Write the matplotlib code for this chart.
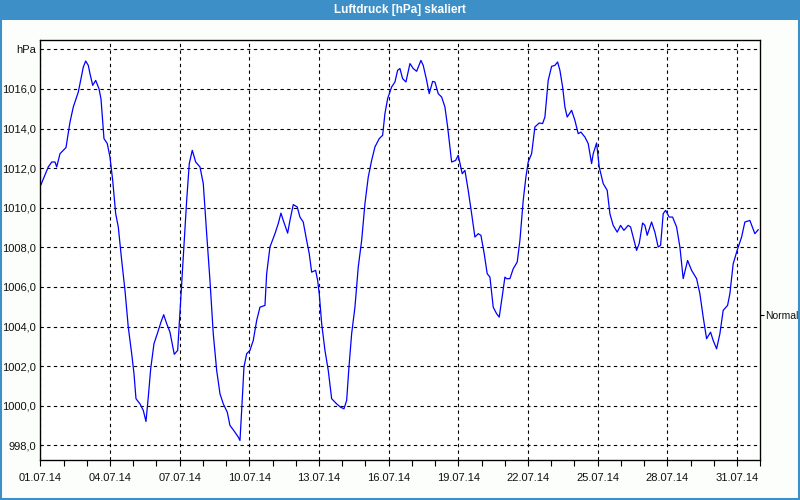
import numpy as np
import matplotlib.pyplot as plt
from matplotlib.patches import Rectangle

plt.rcParams['font.family'] = ['Liberation Sans', 'DejaVu Sans']

# days since 01.07.14 00:00 and pressure in hPa
days = [0.03, 0.344, 0.491, 0.633, 0.706, 0.848, 1.106, 1.279, 1.421, 1.636,
        1.851, 1.954, 2.066, 2.139, 2.256, 2.385, 2.527, 2.613, 2.742, 2.884,
        3.0, 3.117, 3.246, 3.358, 3.504, 3.646, 3.788, 3.935, 4.034, 4.12,
        4.292, 4.434, 4.55, 4.649, 4.753, 4.895, 5.037, 5.196, 5.312, 5.441,
        5.583, 5.768, 5.915, 5.984, 6.156, 6.302, 6.414, 6.543, 6.69, 6.875,
        7.017, 7.163, 7.305, 7.447, 7.594, 7.736, 7.878, 8.05, 8.166, 8.381,
        8.524, 8.597, 8.67, 8.769, 8.885, 9.027,
        9.169, 9.316, 9.458, 9.673, 9.746, 9.888, 10.103, 10.245, 10.362, 10.461,
        10.65, 10.749, 10.891, 11.063, 11.179, 11.321, 11.468, 11.58, 11.683, 11.855,
        11.941, 12.01, 12.114, 12.256, 12.398, 12.544, 12.759, 12.931, 13.074, 13.19,
        13.289, 13.405, 13.547, 13.689, 13.836, 13.978, 14.12, 14.266, 14.408, 14.593,
        14.739, 14.838, 14.955, 15.127, 15.269, 15.385, 15.484, 15.6, 15.743, 15.915,
        16.057, 16.203, 16.388, 16.487, 16.634, 16.745, 16.892, 16.991, 17.133, 17.279,
        17.421, 17.538, 17.71, 17.882, 17.994, 18.166, 18.282, 18.424, 18.571, 18.713,
        18.855, 18.971, 19.113, 19.242, 19.359, 19.501, 19.647, 19.759,
        19.905, 20.004, 20.077, 20.219, 20.362, 20.534, 20.65, 20.792, 20.908, 21.007,
        21.154, 21.296, 21.481, 21.627, 21.726, 21.868, 22.015, 22.157, 22.273, 22.372,
        22.488, 22.587, 22.686, 22.876, 23.018, 23.16, 23.276, 23.448, 23.59, 23.737,
        23.806, 23.952, 24.064, 24.236, 24.408, 24.524, 24.666, 24.839, 24.985, 25.127,
        25.312, 25.415, 25.527, 25.673, 25.785, 25.932, 26.031, 26.13, 26.319, 26.461,
        26.603, 26.707, 26.819, 26.922, 27.077, 27.223, 27.396, 27.538, 27.68, 27.869,
        28.042, 28.257, 28.399, 28.541, 28.687, 28.859, 28.971, 29.118, 29.26, 29.402,
        29.591, 29.69, 29.832, 30.004, 30.194, 30.336, 30.551, 30.766, 30.908]
pressure = [1011.17, 1012.06, 1012.31, 1012.31, 1012.06, 1012.73, 1013.04, 1014.33, 1015.09, 1015.84,
            1017.1, 1017.41, 1017.19, 1016.77, 1016.18, 1016.43, 1016.01, 1015.5, 1013.49, 1013.24,
            1012.56, 1011.38, 1009.7, 1009.03, 1007.34, 1005.83, 1003.97, 1002.63, 1001.62, 1000.36,
            1000.1, 999.77, 999.21, 1000.44, 1001.87, 1003.14, 1003.64, 1004.23, 1004.6, 1004.15,
            1003.72, 1002.6, 1002.8, 1004.15, 1007.51, 1010.37, 1012.23, 1012.9, 1012.31, 1012.06,
            1011.22, 1008.69, 1006.33, 1003.64, 1001.79, 1000.61, 1000.1, 999.68, 999.01, 998.67,
            998.42, 998.25, 999.77, 1001.95, 1002.63, 1002.8,
            1003.3, 1004.31, 1004.98, 1005.07, 1006.67, 1008.02, 1008.69, 1009.2, 1009.73, 1009.36,
            1008.72, 1009.36, 1010.16, 1010.04, 1009.53, 1009.28, 1008.35, 1007.68, 1006.75, 1006.84,
            1006.33, 1005.66, 1004.15, 1002.8, 1001.79, 1000.36, 1000.1, 999.93, 999.85, 1000.27,
            1001.95, 1003.64, 1004.98, 1007.0, 1008.35, 1010.21, 1011.55, 1012.39, 1013.07, 1013.49,
            1013.66, 1014.75, 1015.51, 1016.1, 1016.35, 1016.94, 1017.03, 1016.52, 1016.35, 1017.28,
            1017.03, 1016.89, 1017.44, 1017.19, 1016.43, 1015.76, 1016.38, 1016.35, 1015.76, 1015.59,
            1015.09, 1014.08, 1012.31, 1012.39, 1012.65, 1011.72, 1011.89, 1010.88, 1009.7, 1008.52,
            1008.69, 1008.61, 1007.68, 1006.67, 1006.5, 1004.98, 1004.65, 1004.48,
            1005.66, 1006.5, 1006.42, 1006.42, 1006.92, 1007.26, 1008.35, 1010.37, 1011.55, 1012.31,
            1012.73, 1014.08, 1014.28, 1014.25, 1014.58, 1016.43, 1017.14, 1017.19, 1017.36, 1016.94,
            1016.1, 1015.09, 1014.58, 1014.92, 1014.41, 1013.74, 1013.82, 1013.57, 1013.24, 1012.23,
            1012.73, 1013.27, 1012.06, 1011.22, 1010.88, 1009.7, 1009.11, 1008.77, 1009.11, 1008.86,
            1009.11, 1009.03, 1008.52, 1007.85, 1008.19, 1009.23, 1009.11, 1008.61, 1009.28, 1008.77,
            1008.02, 1008.1, 1009.7, 1009.87, 1009.53, 1009.53, 1009.03, 1008.02, 1006.42, 1007.34,
            1006.84, 1006.42, 1005.66, 1004.48, 1003.39, 1003.72, 1003.3, 1002.88, 1003.64, 1004.82,
            1005.07, 1005.66, 1007.17, 1007.85, 1008.52, 1009.28, 1009.36, 1008.69, 1008.89]

xtick_days = list(range(0, 31, 3))
xtick_labels = ['01.07.14', '04.07.14', '07.07.14', '10.07.14', '13.07.14', '16.07.14',
                '19.07.14', '22.07.14', '25.07.14', '28.07.14', '31.07.14']
ytick_vals = list(range(998, 1019, 2))
ytick_labels = ['%d,0' % v for v in ytick_vals[:-1]] + ['hPa']
normal_val = 1004.6

title = 'Luftdruck [hPa] skaliert'
bar_blue = '#3d8fc7'
txt = '#101010'

fig = plt.figure(figsize=(8, 5), dpi=100)
fig.patch.set_facecolor('#fcfefc')

# title bar and window border
fig.patches.append(Rectangle((0, 1 - 20 / 500), 1, 20 / 500, transform=fig.transFigure,
                             facecolor=bar_blue, edgecolor='none'))
fig.patches.append(Rectangle((0.001, 0.002), 0.998, 0.996, transform=fig.transFigure,
                             facecolor='none', edgecolor=bar_blue, linewidth=1.5))
fig.text(0.5, 1 - 10 / 500, title, color='white', fontsize=8.5, fontweight='bold',
         ha='center', va='center')

ax = fig.add_axes([40.3 / 800, 1 - 460.3 / 500, 720 / 800, 420.3 / 500])
ax.set_facecolor('white')
ax.plot(days, pressure, color='#0000ff', linewidth=0.9)

ax.set_xlim(0, 31)
ax.set_ylim(997.25, 1018.47)

ax.set_xticks(xtick_days)
ax.set_xticklabels(xtick_labels)
ax.set_xticks(range(0, 32), minor=True)
ax.set_yticks(ytick_vals)
ax.set_yticklabels(ytick_labels)

ax.tick_params(axis='x', which='both', direction='out', length=4, width=0.8,
               labelsize=8, labelcolor=txt, pad=5)
ax.tick_params(axis='y', length=0, labelsize=8, labelcolor=txt, pad=3)

ax.grid(True, which='major', color='black', linestyle=(0, (3, 3)), linewidth=0.8)
for s in ax.spines.values():
    s.set_linewidth(0.9)
    s.set_color('black')

ax2 = ax.twinx()
ax2.set_ylim(ax.get_ylim())
ax2.set_yticks([normal_val])
ax2.set_yticklabels(['Normal'])
ax2.tick_params(axis='y', direction='out', length=3, width=0.8, labelsize=7.5,
                labelcolor=txt, pad=0.5)

fig.savefig('out.png', dpi=100, facecolor=fig.get_facecolor())
